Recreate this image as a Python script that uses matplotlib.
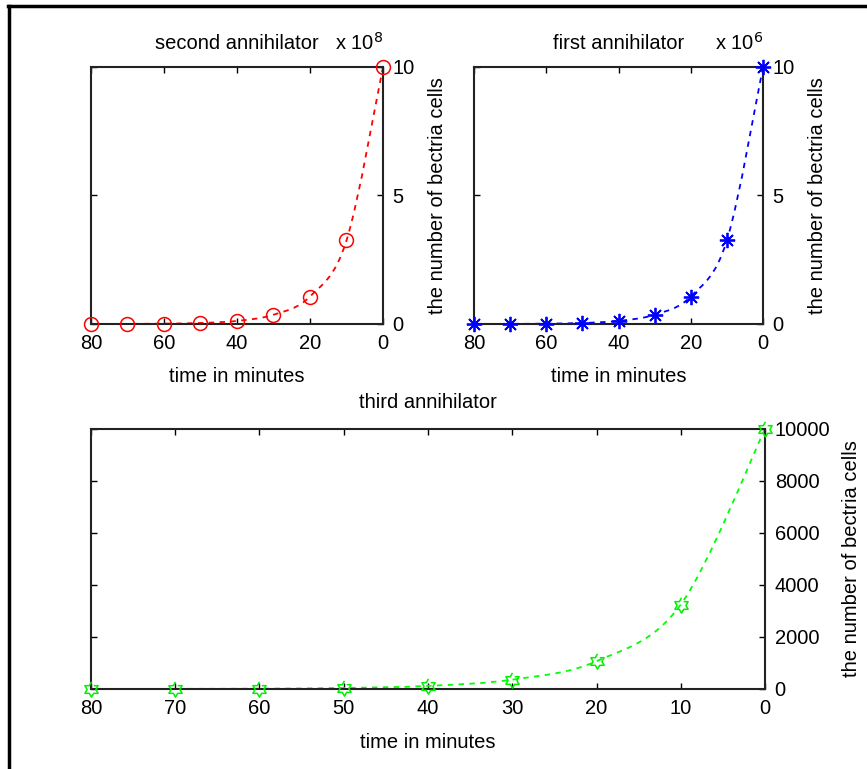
import numpy as np
import matplotlib
matplotlib.use("Agg")
import matplotlib.pyplot as plt
from matplotlib.lines import Line2D
from matplotlib.path import Path
from matplotlib.patches import PathPatch

plt.rcParams['font.family'] = ['Liberation Sans', 'DejaVu Sans']

# ---- data ----
time_min = [0, 10, 20, 30, 40, 50, 60, 70, 80]
first_cells_e6 = [10.0, 3.25, 1.07, 0.36, 0.12, 0.04, 0.014, 0.0046, 0.0015]
second_cells_e8 = [10.0, 3.25, 1.07, 0.36, 0.12, 0.04, 0.014, 0.0046, 0.0015]
third_cells = [10000, 3250, 1070, 360, 120, 40, 14, 5, 1.5]

top_xticks = [0, 20, 40, 60, 80]
top_yticks = [0, 5, 10]
bot_xticks = [0, 10, 20, 30, 40, 50, 60, 70, 80]
bot_yticks = [0, 2000, 4000, 6000, 8000, 10000]

W, H = 867, 769
fig = plt.figure(figsize=(W / 100, H / 100), dpi=100)
FS = 14.5

# hexagram marker (outline of six-pointed star)
ang = np.deg2rad(90 + np.arange(12) * 30)
rad = np.where(np.arange(12) % 2 == 0, 1.0, 1 / np.sqrt(3))
hexagram = list(zip(rad * np.cos(ang), rad * np.sin(ang)))


def smooth_line(ax, xs, ys, color):
    """Draw a smooth dashed curve through the points (Catmull-Rom as Bezier)."""
    p = np.column_stack([xs, ys]).astype(float)
    n = len(p)
    verts = [tuple(p[0])]
    codes = [Path.MOVETO]
    for i in range(n - 1):
        p0 = p[i - 1] if i > 0 else p[i]
        p3 = p[i + 2] if i + 2 < n else p[i + 1]
        c1 = p[i] + (p[i + 1] - p0) / 6.0
        c2 = p[i + 1] - (p3 - p[i]) / 6.0
        verts += [tuple(c1), tuple(c2), tuple(p[i + 1])]
        codes += [Path.CURVE4] * 3
    patch = PathPatch(Path(verts, codes), fill=False, edgecolor=color, lw=1.3,
                      linestyle=(0, (3, 3)), clip_on=False, zorder=2)
    ax.add_patch(patch)


def ax_px(l, t, r, b):
    return fig.add_axes([l / W, 1 - b / H, (r - l) / W, (b - t) / H])


def style(ax, xticks, yticks, ylim, title, ylabel_x, title_y):
    ax.set_xlim(80, 0)
    ax.set_ylim(*ylim)
    ax.set_xticks(xticks)
    ax.set_yticks(yticks)
    ax.yaxis.tick_right()
    ax.yaxis.set_label_position('right')
    ax.tick_params(direction='in', length=4, width=1, top=True, bottom=True,
                   left=True, right=True, labelleft=False, labelright=True,
                   labelsize=FS, pad=7, colors='black')
    for sp in ax.spines.values():
        sp.set_linewidth(1.5)
        sp.set_color('#222222')
    ax.set_xlabel('time in minutes', fontsize=FS)
    ax.xaxis.set_label_coords(0.5, -0.205)
    ax.xaxis.label.set_va('center')
    ax.set_ylabel('the number of bectria cells', fontsize=FS, rotation=90)
    ax.yaxis.set_label_coords(ylabel_x, 0.5)
    ax.yaxis.label.set_va('center')
    ax.yaxis.label.set_ha('center')
    ax.text(0.5, title_y, title, transform=ax.transAxes, ha='center',
            va='center', fontsize=FS)


# second annihilator (top left)
ax1 = ax_px(91, 67, 383, 324)
smooth_line(ax1, time_min, second_cells_e8, 'red')
ax1.plot(time_min, second_cells_e8, ls='none',
         marker='o', ms=10, mfc='none', mec='red', mew=1.1, clip_on=False, zorder=3)
style(ax1, top_xticks, top_yticks, (0, 10), 'second annihilator', 1.185, 1.093)
ax1.text(1.0, 1.095, r'x 10$^{8}$', transform=ax1.transAxes, ha='right',
         va='center', fontsize=FS)

# first annihilator (top right)
ax2 = ax_px(474, 67, 763, 324)
smooth_line(ax2, time_min, first_cells_e6, 'blue')
ax2.plot(time_min, first_cells_e6, ls='none',
         marker=(8, 2, 0), ms=11, mec='blue', mew=1.3, clip_on=False, zorder=3)
style(ax2, top_xticks, top_yticks, (0, 10), 'first annihilator', 1.19, 1.093)
ax2.text(1.0, 1.095, r'x 10$^{6}$', transform=ax2.transAxes, ha='right',
         va='center', fontsize=FS)

# third annihilator (bottom)
ax3 = ax_px(91, 429, 765, 689)
smooth_line(ax3, time_min, third_cells, '#00ff00')
ax3.plot(time_min, third_cells, ls='none',
         marker=hexagram, ms=11, mfc='none', mec='#00ee00', mew=1.1,
         clip_on=False, zorder=3)
style(ax3, bot_xticks, bot_yticks, (0, 10000), 'third annihilator', 1.128, 1.10)

# screenshot border (top and left)
fig.add_artist(Line2D([8 / W, 1.0], [1 - 6 / H, 1 - 6 / H], color='black',
                      lw=2.5, transform=fig.transFigure))
fig.add_artist(Line2D([9 / W, 9 / W], [0.0, 1 - 6 / H], color='black',
                      lw=2.5, transform=fig.transFigure))

fig.savefig('out.png', dpi=100)
